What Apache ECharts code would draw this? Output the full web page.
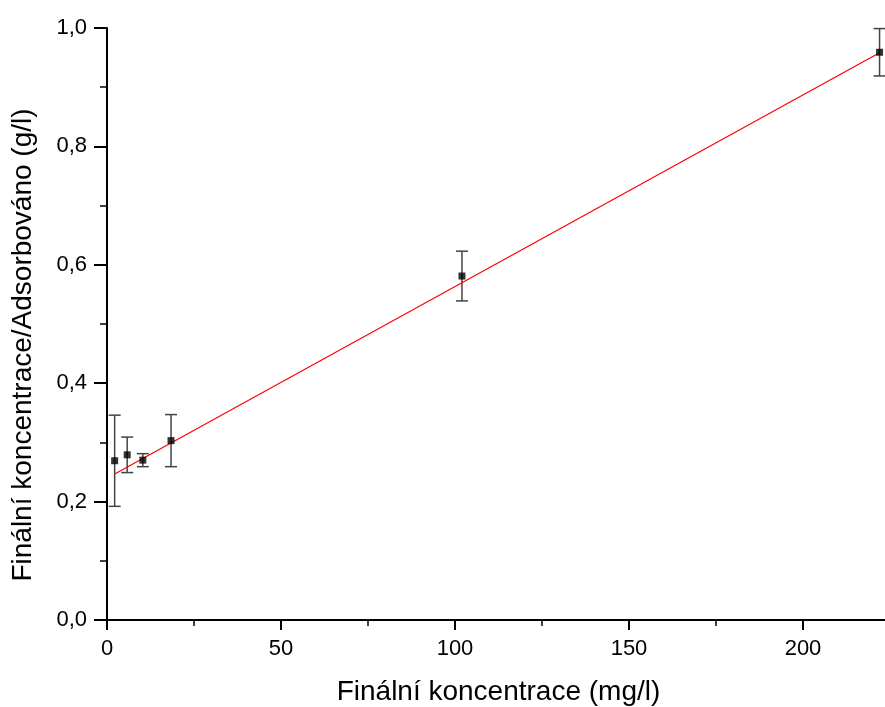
<!DOCTYPE html>
<html>
<head>
<meta charset="utf-8">
<script src="https://cdn.jsdelivr.net/npm/echarts@6/dist/echarts.min.js"></script>
<style>
html,body{margin:0;padding:0;background:#fff;}
#chart{width:885px;height:707px;}
</style>
</head>
<body>
<div id="chart"></div>
<script>
// Data
var xValues = [2.2, 5.8, 10.3, 18.4, 102, 222];
var yValues = [0.269, 0.279, 0.270, 0.303, 0.581, 0.959];
var yErrors = [0.077, 0.030, 0.011, 0.044, 0.042, 0.040];
// Linear fit parameters
var fitIntercept = 0.2395;
var fitSlope = 0.003237;
var xTicks = [0, 50, 100, 150, 200];
var yTicks = [0, 0.2, 0.4, 0.6, 0.8, 1.0];
var xTitle = 'Finální koncentrace (mg/l)';
var yTitle = 'Finální koncentrace/Adsorbováno (g/l)';

var font = '"Liberation Sans", Arial, Helvetica, sans-serif';
var points = xValues.map(function (x, i) { return [x, yValues[i]]; });
var errData = xValues.map(function (x, i) { return [x, yValues[i] - yErrors[i], yValues[i] + yErrors[i]]; });
var xMin = Math.min.apply(null, xValues), xMax = Math.max.apply(null, xValues);
var fitData = [[xMin, fitIntercept + fitSlope * xMin], [xMax, fitIntercept + fitSlope * xMax]];

var chart = echarts.init(document.getElementById('chart'));
chart.setOption({
  backgroundColor: '#fff',
  animation: false,
  grid: { left: 107, top: 28, height: 592, width: 783, containLabel: false, outerBoundsMode: 'none' },
  graphic: [{
    type: 'text',
    x: 23, y: 345,
    rotation: Math.PI / 2,
    style: { text: yTitle, fontFamily: font, fontSize: 28, fill: '#000', align: 'center', verticalAlign: 'middle' }
  }],
  xAxis: [{
    type: 'value', min: 0, max: 225, interval: 50, position: 'bottom',
    name: xTitle, nameLocation: 'middle', nameGap: 58,
    nameTextStyle: { fontFamily: font, fontSize: 28, color: '#000' },
    axisLine: { show: true, lineStyle: { color: '#000', width: 2 } },
    axisTick: { show: true, length: 10, lineStyle: { color: '#000', width: 2 } },
    axisLabel: { show: true, margin: 18, fontFamily: font, fontSize: 22, color: '#000',
      showMaxLabel: false,
      formatter: function (v) { return xTicks.indexOf(v) >= 0 ? String(v) : ''; } },
    splitLine: { show: false }
  }, {
    type: 'value', min: 0, max: 225, interval: 25, position: 'bottom',
    axisLine: { show: false },
    axisTick: { show: true, length: 6, lineStyle: { color: '#000', width: 1.5 } },
    axisLabel: { show: false },
    splitLine: { show: false }
  }],
  yAxis: {
    type: 'value', min: 0, max: 1, interval: 0.2,
    axisLine: { show: true, lineStyle: { color: '#000', width: 2 } },
    axisTick: { show: true, length: 13, lineStyle: { color: '#000', width: 2 } },
    minorTick: { show: true, splitNumber: 2, length: 7, lineStyle: { color: '#000', width: 1.5 } },
    axisLabel: { margin: 20, fontFamily: font, fontSize: 22, color: '#000',
      formatter: function (v) { return v.toFixed(1).replace('.', ','); } },
    splitLine: { show: false }
  },
  series: [{
    type: 'custom',
    name: 'errors',
    xAxisIndex: 0,
    data: errData,
    z: 2,
    renderItem: function (params, api) {
      var x = api.value(0);
      var lo = api.coord([x, api.value(1)]);
      var hi = api.coord([x, api.value(2)]);
      var hw = 6;
      var style = { stroke: '#444', lineWidth: 1.5, fill: null };
      return {
        type: 'group',
        children: [
          { type: 'line', shape: { x1: lo[0], y1: lo[1], x2: hi[0], y2: hi[1] }, style: style },
          { type: 'line', shape: { x1: lo[0] - hw, y1: lo[1], x2: lo[0] + hw, y2: lo[1] }, style: style },
          { type: 'line', shape: { x1: hi[0] - hw, y1: hi[1], x2: hi[0] + hw, y2: hi[1] }, style: style }
        ]
      };
    }
  }, {
    type: 'line',
    name: 'fit',
    xAxisIndex: 0,
    data: fitData,
    showSymbol: false,
    symbol: 'none',
    z: 3,
    lineStyle: { color: '#ff0000', width: 1.2 }
  }, {
    type: 'scatter',
    name: 'data',
    xAxisIndex: 0,
    data: points,
    symbol: 'rect',
    symbolSize: 7,
    z: 4,
    itemStyle: { color: '#000' }
  }]
});
</script>
</body>
</html>
